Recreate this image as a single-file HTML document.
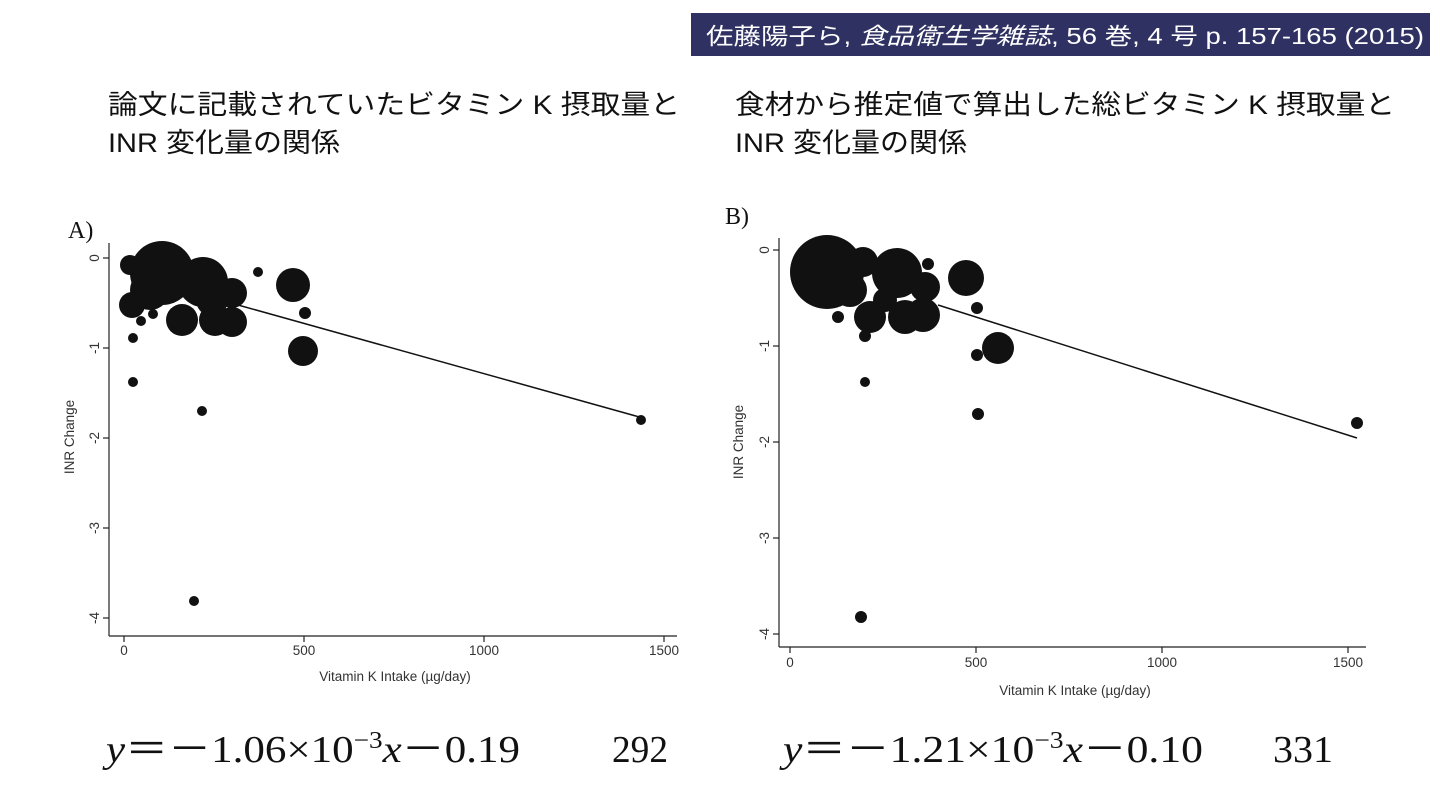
<!DOCTYPE html>
<html><head><meta charset="utf-8"><style>
html,body{margin:0;padding:0;background:#fff;width:1440px;height:810px;overflow:hidden}
svg{display:block}
.jp{font-family:"Liberation Sans","Noto Sans CJK JP",sans-serif}
.ax{font-family:"Liberation Sans",sans-serif;font-size:13.5px;fill:#333}
.eq{font-family:"Liberation Serif",serif;font-size:38px;fill:#111}
</style></head><body>
<svg width="1440" height="810" viewBox="0 0 1440 810" xmlns="http://www.w3.org/2000/svg">
<rect x="691" y="13" width="739" height="43" fill="#2f3163"/>
<text x="706" y="44" class="jp" font-size="23" fill="#fff" textLength="718" lengthAdjust="spacingAndGlyphs">佐藤陽子ら, <tspan font-style="italic">食品衛生学雑誌</tspan>, 56 巻, 4 号 p. 157-165 (2015)</text>
<text x="108" y="114" class="jp" font-size="27" fill="#111" textLength="572" lengthAdjust="spacingAndGlyphs">論文に記載されていたビタミン K 摂取量と</text>
<text x="108" y="152" class="jp" font-size="27" fill="#111" textLength="232" lengthAdjust="spacingAndGlyphs">INR 変化量の関係</text>
<text x="735" y="114" class="jp" font-size="27" fill="#111" textLength="660" lengthAdjust="spacingAndGlyphs">食材から推定値で算出した総ビタミン K 摂取量と</text>
<text x="735" y="152" class="jp" font-size="27" fill="#111" textLength="232" lengthAdjust="spacingAndGlyphs">INR 変化量の関係</text>

<!-- Chart A -->
<text x="68" y="238" font-family="Liberation Serif,serif" font-size="24" fill="#111">A)</text>
<g stroke="#222" stroke-width="1.2" fill="none">
<line x1="109" y1="243" x2="109" y2="636"/><line x1="109" y1="636" x2="677" y2="636"/>
<line x1="103" y1="258" x2="109" y2="258"/><line x1="103" y1="348" x2="109" y2="348"/><line x1="103" y1="438" x2="109" y2="438"/><line x1="103" y1="528" x2="109" y2="528"/><line x1="103" y1="618" x2="109" y2="618"/>
<line x1="124" y1="636" x2="124" y2="642"/><line x1="304" y1="636" x2="304" y2="642"/><line x1="484" y1="636" x2="484" y2="642"/><line x1="664" y1="636" x2="664" y2="642"/>
</g>
<g class="ax">
<text transform="translate(99,258) rotate(-90)" text-anchor="middle">0</text>
<text transform="translate(99,348) rotate(-90)" text-anchor="middle">-1</text>
<text transform="translate(99,438) rotate(-90)" text-anchor="middle">-2</text>
<text transform="translate(99,528) rotate(-90)" text-anchor="middle">-3</text>
<text transform="translate(99,618) rotate(-90)" text-anchor="middle">-4</text>
<text x="124" y="655" text-anchor="middle">0</text><text x="304" y="655" text-anchor="middle">500</text><text x="484" y="655" text-anchor="middle">1000</text><text x="664" y="655" text-anchor="middle">1500</text>
<text transform="translate(74,437) rotate(-90)" text-anchor="middle">INR Change</text>
<text x="395" y="681" text-anchor="middle">Vitamin K Intake (µg/day)</text>
</g>
<line x1="238" y1="305" x2="643" y2="418" stroke="#111" stroke-width="1.5"/>
<g fill="#111">
<circle cx="162" cy="273" r="32"/><circle cx="203" cy="282" r="25"/><circle cx="130" cy="265" r="10"/><circle cx="132" cy="305" r="13"/>
<circle cx="150" cy="290" r="20"/><circle cx="182" cy="320" r="16"/><circle cx="215" cy="320" r="16"/><circle cx="232" cy="322" r="15"/>
<circle cx="232" cy="293" r="15"/><circle cx="212" cy="300" r="16"/><circle cx="258" cy="272" r="5"/><circle cx="293" cy="285" r="17"/><circle cx="305" cy="313" r="6"/>
<circle cx="303" cy="351" r="15"/><circle cx="141" cy="321" r="5"/><circle cx="133" cy="338" r="5"/><circle cx="153" cy="314" r="5"/>
<circle cx="133" cy="382" r="5"/><circle cx="202" cy="411" r="5"/><circle cx="194" cy="601" r="5"/><circle cx="641" cy="420" r="5"/>
</g>
<text x="106" y="762" class="eq" textLength="414" lengthAdjust="spacingAndGlyphs"><tspan font-style="italic">y</tspan>＝－1.06×10<tspan dy="-14" font-size="24">−3</tspan><tspan dy="14" font-style="italic">x</tspan>－0.19</text>
<text x="612" y="762" class="eq" textLength="56" lengthAdjust="spacingAndGlyphs">292</text>

<!-- Chart B -->
<text x="725" y="224" font-family="Liberation Serif,serif" font-size="24" fill="#111">B)</text>
<g stroke="#222" stroke-width="1.2" fill="none">
<line x1="779" y1="238" x2="779" y2="647"/><line x1="779" y1="647" x2="1366" y2="647"/>
<line x1="773" y1="250" x2="779" y2="250"/><line x1="773" y1="346" x2="779" y2="346"/><line x1="773" y1="442" x2="779" y2="442"/><line x1="773" y1="538" x2="779" y2="538"/><line x1="773" y1="634" x2="779" y2="634"/>
<line x1="790" y1="647" x2="790" y2="653"/><line x1="976" y1="647" x2="976" y2="653"/><line x1="1162" y1="647" x2="1162" y2="653"/><line x1="1348" y1="647" x2="1348" y2="653"/>
</g>
<g class="ax">
<text transform="translate(769,250) rotate(-90)" text-anchor="middle">0</text>
<text transform="translate(769,346) rotate(-90)" text-anchor="middle">-1</text>
<text transform="translate(769,442) rotate(-90)" text-anchor="middle">-2</text>
<text transform="translate(769,538) rotate(-90)" text-anchor="middle">-3</text>
<text transform="translate(769,634) rotate(-90)" text-anchor="middle">-4</text>
<text x="790" y="667" text-anchor="middle">0</text><text x="976" y="667" text-anchor="middle">500</text><text x="1162" y="667" text-anchor="middle">1000</text><text x="1348" y="667" text-anchor="middle">1500</text>
<text transform="translate(743,442) rotate(-90)" text-anchor="middle">INR Change</text>
<text x="1075" y="695" text-anchor="middle">Vitamin K Intake (µg/day)</text>
</g>
<line x1="938" y1="305" x2="1357" y2="438" stroke="#111" stroke-width="1.5"/>
<g fill="#111">
<circle cx="827" cy="272" r="37"/><circle cx="863" cy="262" r="15"/><circle cx="897" cy="273" r="25"/><circle cx="928" cy="264" r="6"/>
<circle cx="925" cy="287" r="15"/><circle cx="850" cy="290" r="17"/><circle cx="966" cy="278" r="18"/><circle cx="977" cy="308" r="6"/>
<circle cx="838" cy="317" r="6"/><circle cx="870" cy="317" r="16"/><circle cx="905" cy="317" r="17"/><circle cx="923" cy="315" r="17"/>
<circle cx="885" cy="300" r="12"/><circle cx="865" cy="336" r="6"/><circle cx="998" cy="348" r="16"/><circle cx="977" cy="355" r="6"/>
<circle cx="865" cy="382" r="5"/><circle cx="978" cy="414" r="6"/><circle cx="861" cy="617" r="6"/><circle cx="1357" cy="423" r="6"/>
</g>
<text x="783" y="762" class="eq" textLength="420" lengthAdjust="spacingAndGlyphs"><tspan font-style="italic">y</tspan>＝－1.21×10<tspan dy="-14" font-size="24">−3</tspan><tspan dy="14" font-style="italic">x</tspan>－0.10</text>
<text x="1273" y="762" class="eq" textLength="60" lengthAdjust="spacingAndGlyphs">331</text>
</svg>
</body></html>
